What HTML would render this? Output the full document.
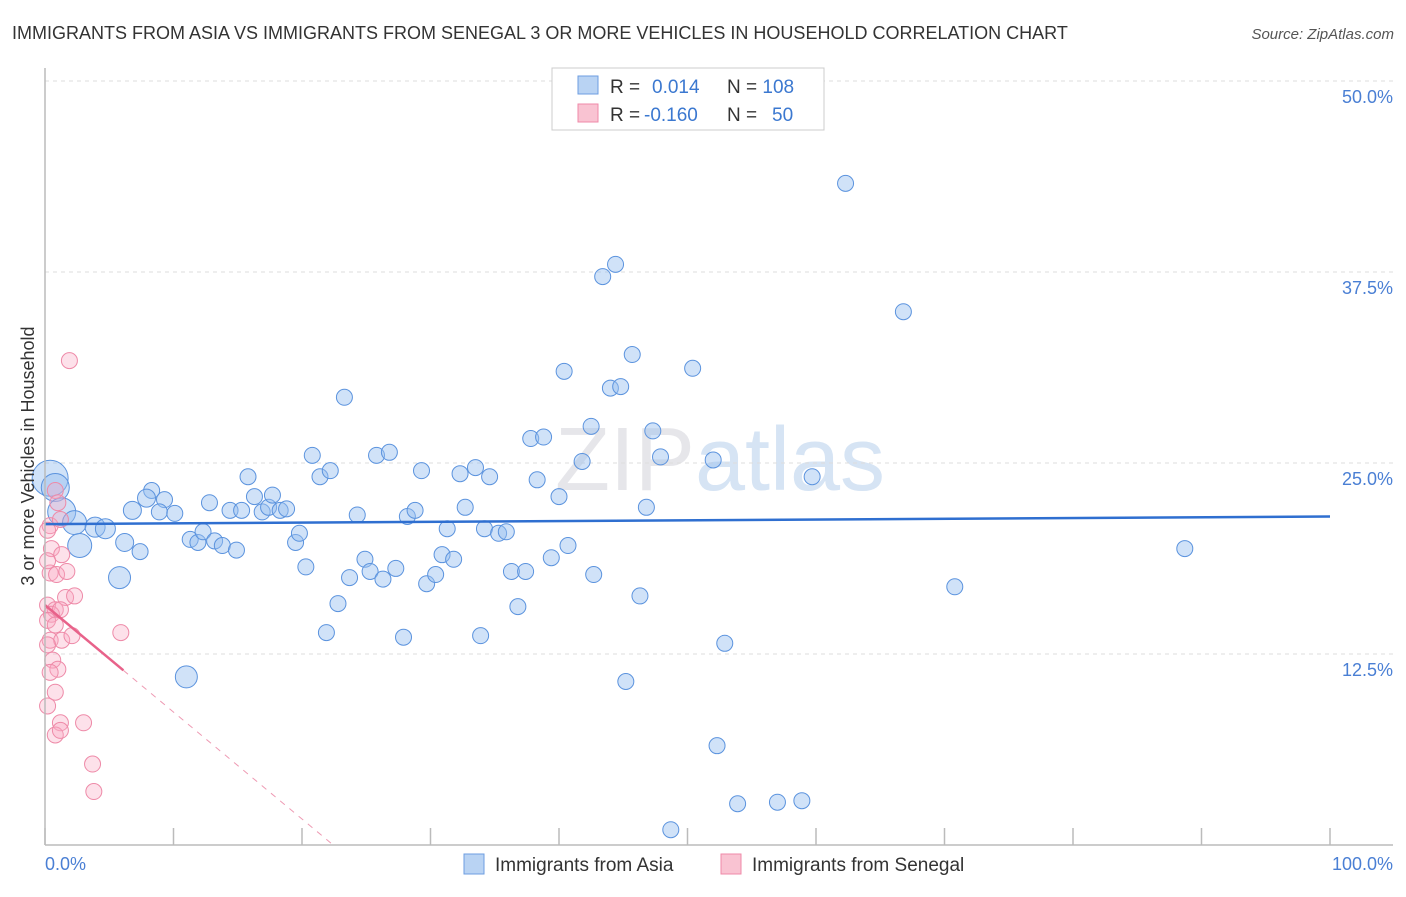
<!DOCTYPE html>
<html><head><meta charset="utf-8"><style>
body{margin:0;background:#fff;font-family:"Liberation Sans",sans-serif}
svg text{font-family:"Liberation Sans",sans-serif}
</style></head><body>
<svg id="c" width="1406" height="892">
<text x="12" y="39" font-size="18" fill="#333">IMMIGRANTS FROM ASIA VS IMMIGRANTS FROM SENEGAL 3 OR MORE VEHICLES IN HOUSEHOLD CORRELATION CHART</text>
<text x="1394" y="39" font-size="15" fill="#555" text-anchor="end" font-style="italic">Source: ZipAtlas.com</text>
<text x="720" y="490" font-size="90" fill="#e6e6ea" text-anchor="middle" font-family="Liberation Serif">ZIP<tspan fill="#d6e4f4" font-family="Liberation Sans">atlas</tspan></text>
<g id="grid"></g><g id="pts"></g><g id="trend"></g>
<line x1="45" y1="68" x2="45" y2="845" stroke="#bbb" stroke-width="1.5"/>
<line x1="45" y1="845" x2="1393" y2="845" stroke="#bbb" stroke-width="1.5"/>
<text transform="translate(34,456) rotate(-90)" font-size="18" fill="#333" text-anchor="middle">3 or more Vehicles in Household</text>
<text x="45" y="870" font-size="18" fill="#4a7fd4">0.0%</text>
<text x="1393" y="870" font-size="18" fill="#4a7fd4" text-anchor="end">100.0%</text>
<g>
<rect x="552" y="68" width="272" height="62" fill="#fff" stroke="#ccc"/>
<rect x="578" y="76" width="20" height="18" fill="#b9d3f3" stroke="#6d9ee0"/>
<rect x="578" y="104" width="20" height="18" fill="#f9c3d2" stroke="#ef8aa8"/>
<text x="610" y="93" font-size="19" fill="#333">R = <tspan fill="#3b78d0" x="652">0.014</tspan><tspan x="727" fill="#333">N = </tspan><tspan fill="#3b78d0">108</tspan></text>
<text x="610" y="121" font-size="19" fill="#333">R = <tspan fill="#3b78d0" x="644">-0.160</tspan><tspan x="727" fill="#333">N = </tspan><tspan fill="#3b78d0" x="772">50</tspan></text>
</g>
<g>
<rect x="464" y="854" width="20" height="20" fill="#b9d3f3" stroke="#6d9ee0"/>
<text x="495" y="871" font-size="19" fill="#333">Immigrants from Asia</text>
<rect x="721" y="854" width="20" height="20" fill="#f9c3d2" stroke="#ef8aa8"/>
<text x="752" y="871" font-size="19" fill="#333">Immigrants from Senegal</text>
</g>
</svg>
<script>
const yTicks=[12.5,25,37.5,50];
const yTickLabels=["12.5%","25.0%","37.5%","50.0%"];
const xTicks=[0,10,20,30,40,50,60,70,80,90,100];
const asiaX=[0.4,0.8,1.3,2.3,2.7,3.9,4.7,5.8,6.2,7.4,6.8,8.3,7.9,9.3,8.9,10.1,11.0,11.3,11.9,12.3,12.8,13.2,13.8,14.4,14.9,15.3,15.8,16.3,16.9,17.4,17.7,18.3,18.8,19.5,19.8,20.3,20.8,21.4,22.2,21.9,22.8,23.3,23.7,24.3,24.9,25.3,25.8,26.3,26.8,27.3,27.9,28.2,28.8,29.3,29.7,30.4,30.9,31.3,31.8,32.3,32.7,33.5,33.9,34.2,34.6,35.3,35.9,36.3,36.8,37.4,37.8,38.3,38.8,39.4,40.0,40.4,40.7,41.8,42.5,42.7,43.4,44.0,44.4,44.8,45.7,46.3,46.8,47.3,47.9,45.2,48.7,50.4,52.0,52.3,52.9,53.9,57.0,58.9,59.7,62.3,66.8,70.8,88.7];
const asiaY=[24.0,23.4,21.8,21.1,19.6,20.8,20.7,17.5,19.8,19.2,21.9,23.2,22.7,22.6,21.8,21.7,11.0,20.0,19.8,20.5,22.4,19.9,19.6,21.9,19.3,21.9,24.1,22.8,21.8,22.1,22.9,21.9,22.0,19.8,20.4,18.2,25.5,24.1,24.5,13.9,15.8,29.3,17.5,21.6,18.7,17.9,25.5,17.4,25.7,18.1,13.6,21.5,21.9,24.5,17.1,17.7,19.0,20.7,18.7,24.3,22.1,24.7,13.7,20.7,24.1,20.4,20.5,17.9,15.6,17.9,26.6,23.9,26.7,18.8,22.8,31.0,19.6,25.1,27.4,17.7,37.2,29.9,38.0,30.0,32.1,16.3,22.1,27.1,25.4,10.7,1.0,31.2,25.2,6.5,13.2,2.7,2.8,2.9,24.1,43.3,34.9,16.9,19.4];
const asiaSize=[18,14,14,12,12,10,10,11,9,8,9,8,9,8,8,8,11];
const senX=[1.9,0.8,1.0,0.4,1.2,0.2,0.5,1.3,0.4,0.9,1.7,1.6,2.3,0.2,0.8,0.5,0.2,0.8,0.4,1.3,2.1,0.2,0.6,1.0,0.4,0.8,0.2,1.2,3.0,0.8,1.2,3.7,3.8,5.9,0.2,1.2];
const senY=[31.7,23.2,22.4,20.9,21.3,20.6,19.4,19.0,17.8,17.7,17.9,16.2,16.3,15.7,15.4,15.1,14.7,14.4,13.4,13.4,13.7,13.1,12.1,11.5,11.3,10.0,9.1,8.0,8.0,7.2,7.5,5.3,3.5,13.9,18.6,15.4];
const asiaTrend=[21.0,21.5];
const senTrend=[15.7,-0.7];
const X0=45,X1=1330,Y0=845,YPX=764/50;
const sx=v=>X0+(X1-X0)*v/100, sy=v=>Y0-v*YPX;
const NS="http://www.w3.org/2000/svg";
function mk(t,a,p){const e=document.createElementNS(NS,t);for(const k in a)e.setAttribute(k,a[k]);p.appendChild(e);return e;}
const grid=document.getElementById('grid'),pts=document.getElementById('pts'),tr=document.getElementById('trend');
yTicks.forEach((v,i)=>{
 const l=mk('line',{x1:45,x2:1393,y1:sy(v),y2:sy(v),stroke:'#ddd','stroke-dasharray':'4,4'},grid);
 
 
 const t=mk('text',{x:1393,y:sy(v)+22,'font-size':18,fill:'#4a7fd4','text-anchor':'end'},grid);
 t.textContent=yTickLabels[i];
 
 
});
xTicks.forEach(v=>{
 const l=mk('line',{x1:sx(v),x2:sx(v),y1:828,y2:845,stroke:'#bbb','stroke-width':1.5},grid);
 
 
});
asiaX.forEach((v,i)=>{
 const c=mk('circle',{cx:sx(v),cy:sy(asiaY[i]),r:asiaSize[i]||8,fill:'rgba(150,190,240,0.45)',stroke:'#5b93de','stroke-width':1},pts);
 
 
});
senX.forEach((v,i)=>{
 const c=mk('circle',{cx:sx(v),cy:sy(senY[i]),r:8,fill:'rgba(248,170,195,0.35)',stroke:'#ee8aa8','stroke-width':1},pts);
 
 
});
const a=mk('line',{x1:sx(0),y1:sy(asiaTrend[0]),x2:sx(100),y2:sy(asiaTrend[1]),stroke:'#2f6fd0','stroke-width':2.5},tr);


const xe=6.1, xz=-senTrend[0]/senTrend[1];
const s=mk('line',{x1:sx(0),y1:sy(senTrend[0]),x2:sx(xe),y2:sy(senTrend[0]+senTrend[1]*xe),stroke:'#e8628a','stroke-width':2.5},tr);


const d=mk('line',{x1:sx(xe),y1:sy(senTrend[0]+senTrend[1]*xe),x2:sx(xz),y2:sy(0),stroke:'#ee9ab3','stroke-width':1,'stroke-dasharray':'6,6'},tr);


</script>
</body></html>
